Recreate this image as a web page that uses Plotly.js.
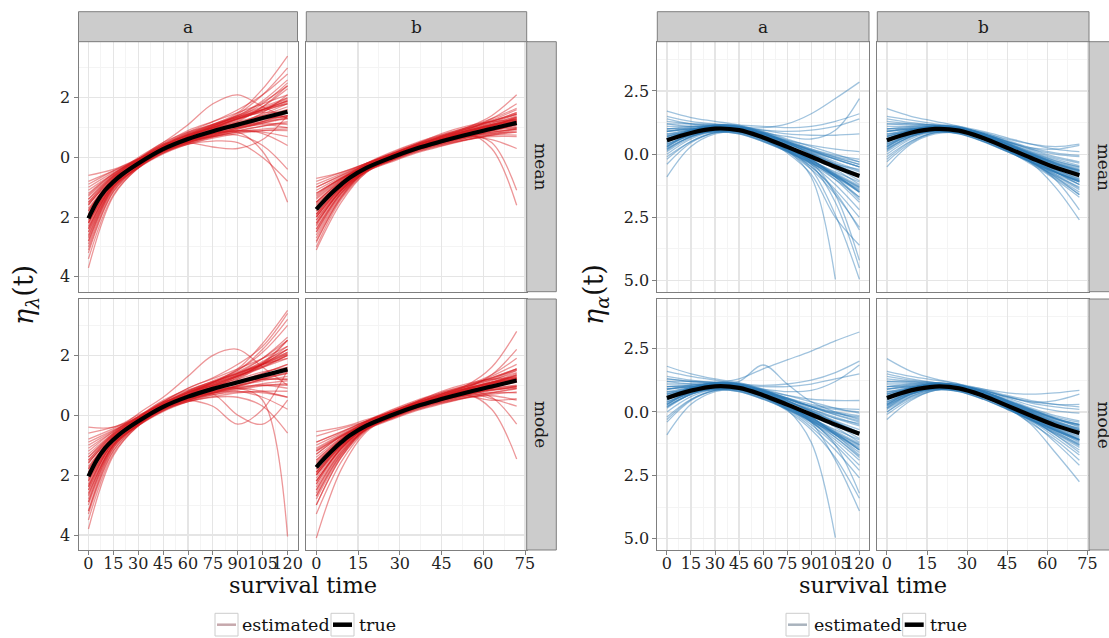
<!DOCTYPE html>
<html>
<head>
<meta charset="utf-8">
<script src="https://cdn.plot.ly/plotly-3.0.1.min.js"></script>
<style>html,body{margin:0;padding:0;background:#fff}#chart{width:1109px;height:638px}</style>
</head>
<body>
<div id="chart"></div>
<script>
// ---------------- data ----------------
const facetCols = ["a", "b"];
const facetRows = ["mean", "mode"];
const legendLabels = ["estimated", "true"];
const xTitle = "survival time";
const yTitleLambda = "<i>η</i><sub><i>λ</i></sub>(t)";
const yTitleAlpha = "<i>η</i><sub><i>α</i></sub>(t)";

const tA = [0, 15, 30, 45, 60, 75, 90, 105, 120];
const tB = [0, 9, 18, 27, 36, 45, 54, 63, 72];

const trueLamA_t = [0, 5, 10, 15, 20, 30, 45, 60, 75, 90, 105, 120];
const trueLamA   = [-2.04, -1.5, -1.1, -0.82, -0.58, -0.2, 0.28, 0.62, 0.88, 1.1, 1.32, 1.53];
const trueLamB_t = [0, 3, 6, 9, 12, 18, 27, 36, 45, 54, 63, 72];
const trueLamB   = [-1.74, -1.43, -1.15, -0.9, -0.68, -0.35, 0.0, 0.3, 0.54, 0.76, 0.96, 1.16];
const trueAlpA_t = [0, 15, 30, 45, 60, 75, 90, 105, 120];
const trueAlpA   = [0.55, 0.84, 1.01, 0.95, 0.66, 0.29, -0.1, -0.5, -0.86];
const trueAlpB_t = [0, 9, 18, 27, 36, 45, 54, 63, 72];
const trueAlpB   = [0.55, 0.85, 1.0, 0.93, 0.64, 0.25, -0.15, -0.53, -0.83];

const lamAMean = [
 [-1.2,-0.55,-0.05,0.35,0.65,0.9,1.15,1.45,1.8],[-2.6,-0.95,-0.25,0.25,0.6,0.85,1.05,1.2,1.3],
 [-0.6,-0.4,-0.05,0.3,0.6,0.85,1.05,1.25,1.4],[-3.2,-1.15,-0.3,0.2,0.55,0.8,1.1,1.5,2.1],
 [-1.8,-0.7,-0.15,0.35,0.7,1.0,1.3,1.7,2.3],[-2.2,-0.85,-0.25,0.25,0.6,0.8,0.9,0.85,0.7],
 [-1.5,-0.65,-0.1,0.4,0.8,1.1,1.4,1.9,2.6],[-2.9,-1.05,-0.3,0.2,0.5,0.7,0.85,0.9,0.9],
 [-1.0,-0.5,-0.1,0.3,0.7,1.05,1.35,1.6,1.8],[-3.7,-1.3,-0.35,0.15,0.5,0.75,1.0,1.3,1.6],
 [-2.0,-0.8,-0.2,0.3,0.65,0.95,1.25,1.6,2.0],[-1.7,-0.75,-0.15,0.35,0.7,0.95,1.15,1.3,1.35],
 [-2.4,-0.9,-0.25,0.3,0.7,1.0,1.35,1.8,2.5],[-1.3,-0.6,-0.1,0.4,0.85,1.2,1.6,2.1,2.8],
 [-2.7,-1.0,-0.3,0.2,0.55,0.8,1.0,1.1,1.0],[-1.9,-0.75,-0.2,0.25,0.55,0.75,0.9,0.8,0.4],
 [-2.3,-0.85,-0.2,0.3,0.65,0.9,1.2,1.7,2.4],[-1.6,-0.7,-0.2,0.25,0.6,0.85,1.05,1.15,1.1],
 [-0.9,-0.45,-0.05,0.4,0.75,1.05,1.4,1.85,2.4],[-2.5,-0.9,-0.2,0.35,0.75,1.0,1.2,1.4,1.6],
 [-2.2,-0.8,-0.1,0.45,0.5,0.35,0.3,0.6,1.4],[-1.4,-0.6,0.0,0.5,1.1,1.8,2.1,1.7,1.3],
 [-2.0,-0.85,-0.25,0.2,0.45,0.55,0.5,0.0,-0.8],[-2.8,-1.0,-0.25,0.3,0.7,1.05,1.45,2.1,3.0],
 [-1.1,-0.55,-0.1,0.3,0.55,0.7,0.75,0.4,-0.4],[-2.1,-0.8,-0.2,0.3,0.6,0.8,0.85,0.2,-1.5],
 [-1.8,-0.75,-0.15,0.35,0.75,1.1,1.5,2.3,3.4],[-3.0,-1.1,-0.3,0.25,0.6,0.95,1.3,1.6,1.9],
 [-1.5,-0.65,-0.15,0.3,0.6,0.85,1.1,1.4,1.7],[-2.4,-0.9,-0.2,0.3,0.7,1.0,1.3,1.5,1.5],
 [-1.9,-0.7,-0.05,0.5,0.85,1.1,1.35,1.6,1.9],[-2.2,-0.95,-0.35,0.12,0.45,0.68,0.88,1.05,1.2],
 [-1.6,-0.65,-0.08,0.45,0.9,1.2,1.5,1.8,2.1],[-2.5,-1.0,-0.35,0.15,0.45,0.65,0.8,0.9,0.95],
 [-1.4,-0.62,-0.05,0.42,0.78,1.05,1.3,1.55,1.8],[-2.8,-1.05,-0.32,0.2,0.52,0.75,0.95,1.15,1.35],
 [-1.75,-0.72,-0.12,0.4,0.75,0.98,1.15,1.3,1.4],[-2.35,-0.95,-0.3,0.18,0.5,0.72,0.9,1.05,1.15],
 [-1.25,-0.55,-0.05,0.45,0.82,1.12,1.4,1.7,2.0],[-3.1,-1.15,-0.35,0.15,0.48,0.72,0.95,1.2,1.5],
 [-2.0,-0.78,-0.15,0.38,0.75,1.02,1.28,1.55,1.85],[-1.55,-0.75,-0.25,0.2,0.5,0.7,0.85,0.95,1.0],
 [-2.65,-0.98,-0.22,0.36,0.78,1.08,1.36,1.65,1.95],[-0.8,-0.45,-0.1,0.25,0.55,0.78,0.98,1.15,1.3],
 [-2.15,-0.88,-0.25,0.22,0.55,0.8,1.0,1.2,1.4],[-3.4,-1.25,-0.35,0.25,0.68,1.0,1.3,1.6,1.9]
];
const lamBMean = [
 [-0.7,-0.5,-0.2,0.1,0.35,0.6,0.85,1.05,1.3],[-2.5,-1.2,-0.45,-0.05,0.3,0.55,0.75,0.9,1.0],
 [-1.2,-0.7,-0.3,0.05,0.35,0.6,0.85,1.1,1.4],[-3.1,-1.5,-0.5,-0.05,0.3,0.55,0.8,1.0,1.2],
 [-1.9,-0.95,-0.35,0.0,0.3,0.5,0.7,0.85,0.95],[-1.5,-0.8,-0.3,0.05,0.4,0.7,0.95,1.2,1.5],
 [-2.2,-1.1,-0.4,0.0,0.3,0.55,0.8,1.05,1.35],[-1.0,-0.6,-0.25,0.05,0.3,0.5,0.7,0.8,0.85],
 [-2.8,-1.35,-0.45,-0.05,0.3,0.55,0.8,1.0,1.2],[-1.7,-0.85,-0.3,0.05,0.4,0.65,0.9,1.15,1.45],
 [-2.0,-1.0,-0.35,0.0,0.3,0.6,0.9,1.3,1.8],[-1.3,-0.7,-0.3,0.0,0.25,0.45,0.6,0.7,0.7],
 [-2.4,-1.15,-0.4,0.0,0.35,0.6,0.85,1.1,1.3],[-0.9,-0.55,-0.2,0.1,0.4,0.7,0.95,1.25,1.6],
 [-1.6,-0.85,-0.35,-0.05,0.25,0.5,0.75,0.95,1.1],[-2.1,-1.05,-0.35,0.05,0.4,0.7,0.9,1.1,1.25],
 [-1.8,-0.9,-0.3,0.1,0.45,0.75,1.0,1.3,1.65],[-2.7,-1.3,-0.45,-0.05,0.25,0.5,0.7,0.85,0.95],
 [-1.4,-0.75,-0.3,0.0,0.35,0.6,0.8,0.95,1.0],[-1.1,-0.65,-0.25,0.1,0.45,0.8,1.05,1.2,1.25],
 [-2.3,-1.1,-0.4,0.05,0.4,0.7,1.0,1.4,2.1],[-1.9,-0.95,-0.35,0.0,0.35,0.6,0.75,0.5,-1.1],
 [-1.5,-0.8,-0.3,0.05,0.35,0.6,0.8,0.3,-1.6],[-2.0,-1.0,-0.35,0.0,0.3,0.55,0.7,0.6,0.3],
 [-1.2,-0.7,-0.3,0.0,0.3,0.55,0.8,1.05,1.35],[-3.0,-1.4,-0.5,-0.1,0.25,0.5,0.75,0.95,1.15],
 [-1.7,-0.9,-0.35,0.0,0.35,0.65,0.95,1.2,1.45],[-2.2,-1.1,-0.4,0.0,0.3,0.5,0.65,0.75,0.75],
 [-0.8,-0.5,-0.2,0.1,0.4,0.65,0.9,1.1,1.2],[-2.5,-1.2,-0.45,-0.05,0.3,0.6,0.85,1.05,1.25],
 [-1.7,-0.8,-0.22,0.15,0.47,0.72,0.95,1.15,1.35],[-1.9,-1.0,-0.45,-0.12,0.18,0.4,0.6,0.78,0.95],
 [-1.5,-0.75,-0.2,0.18,0.5,0.76,1.0,1.22,1.45],[-2.1,-1.1,-0.48,-0.15,0.15,0.38,0.58,0.75,0.9],
 [-1.35,-0.72,-0.25,0.1,0.42,0.66,0.88,1.06,1.22],[-2.4,-1.18,-0.45,-0.08,0.24,0.48,0.7,0.9,1.1],
 [-1.8,-0.85,-0.25,0.1,0.4,0.62,0.8,0.95,1.05],[-2.0,-1.05,-0.42,-0.1,0.2,0.44,0.66,0.88,1.12],
 [-1.25,-0.68,-0.22,0.12,0.44,0.68,0.9,1.1,1.28],[-2.6,-1.25,-0.45,-0.08,0.25,0.5,0.72,0.92,1.1],
 [-1.65,-0.82,-0.25,0.12,0.45,0.72,0.98,1.22,1.5],[-1.95,-1.02,-0.42,-0.1,0.2,0.42,0.6,0.74,0.85],
 [-1.0,-0.6,-0.2,0.12,0.42,0.66,0.88,1.06,1.22],[-2.25,-1.08,-0.38,0.02,0.36,0.62,0.86,1.08,1.3],
 [-1.55,-0.86,-0.38,-0.06,0.24,0.46,0.66,0.82,0.98],[-2.85,-1.32,-0.42,0.02,0.36,0.6,0.82,1.0,1.18]
];
const lamAMode = [
 [-0.4,-0.4,0.0,0.35,0.65,0.9,1.15,1.4,1.7],[-1.2,-0.55,-0.05,0.4,0.75,1.05,1.35,1.75,2.3],
 [-2.6,-1.0,-0.25,0.25,0.6,0.85,1.05,1.25,1.4],[-3.3,-1.2,-0.3,0.2,0.55,0.85,1.2,1.7,2.5],
 [-1.8,-0.7,-0.15,0.35,0.7,1.0,1.3,1.7,2.2],[-2.2,-0.85,-0.25,0.25,0.6,0.8,0.9,0.8,0.6],
 [-1.5,-0.65,-0.1,0.4,0.8,1.15,1.5,2.1,3.0],[-2.9,-1.05,-0.3,0.2,0.5,0.75,0.9,1.0,1.0],
 [-0.9,-0.5,-0.1,0.35,0.75,1.1,1.4,1.7,1.9],[-3.8,-1.35,-0.35,0.15,0.5,0.75,1.0,1.3,1.6],
 [-2.0,-0.8,-0.2,0.3,0.65,0.95,1.3,1.7,2.2],[-1.7,-0.75,-0.15,0.35,0.7,0.95,1.1,1.2,1.2],
 [-2.4,-0.9,-0.25,0.3,0.7,1.05,1.4,1.9,2.6],[-1.3,-0.6,-0.1,0.45,0.9,1.25,1.7,2.3,3.4],
 [-2.7,-1.0,-0.3,0.2,0.55,0.8,0.95,1.0,0.9],[-1.9,-0.75,-0.2,0.3,0.6,0.7,0.0,-0.3,0.5],
 [-2.3,-0.85,-0.2,0.3,0.65,0.95,1.25,1.75,2.5],[-1.6,-0.7,-0.2,0.25,0.6,0.85,0.9,0.5,-4.05],
 [-0.8,-0.45,-0.05,0.4,0.8,1.1,1.45,1.9,2.5],[-2.5,-0.9,-0.2,0.35,0.75,1.0,1.2,1.45,1.6],
 [-1.4,-0.6,0.05,0.6,1.3,2.0,2.2,1.6,1.0],[-2.1,-0.8,-0.1,0.45,0.5,0.3,-0.3,0.2,1.5],
 [-2.0,-0.85,-0.25,0.2,0.45,0.6,0.6,0.3,-0.6],[-2.8,-1.0,-0.25,0.3,0.7,1.1,1.5,2.2,3.2],
 [-1.1,-0.55,-0.1,0.3,0.55,0.75,0.8,0.6,0.2],[-3.2,-1.1,-0.3,0.25,0.6,0.9,1.25,1.6,2.0],
 [-1.8,-0.75,-0.15,0.35,0.75,1.1,1.55,2.4,3.5],[-3.0,-1.1,-0.3,0.25,0.65,0.95,1.3,1.7,2.1],
 [-1.5,-0.65,-0.15,0.3,0.6,0.85,1.1,1.4,1.7],[-2.4,-0.9,-0.2,0.3,0.7,1.0,1.35,1.8,2.2],
 [-1.9,-0.7,-0.05,0.5,0.85,1.12,1.4,1.7,2.05],[-2.2,-0.95,-0.35,0.12,0.45,0.68,0.85,0.98,1.05],
 [-1.6,-0.65,-0.08,0.45,0.9,1.22,1.55,1.9,2.3],[-2.5,-1.0,-0.35,0.15,0.45,0.62,0.75,0.8,0.8],
 [-1.4,-0.62,-0.05,0.42,0.78,1.05,1.32,1.6,1.9],[-2.9,-1.05,-0.32,0.2,0.52,0.75,0.98,1.2,1.45],
 [-1.75,-0.72,-0.12,0.4,0.75,0.98,1.12,1.2,1.2],[-2.35,-0.95,-0.3,0.18,0.5,0.72,0.9,1.05,1.15],
 [-1.0,-0.52,-0.05,0.45,0.82,1.12,1.42,1.75,2.1],[-3.2,-1.18,-0.35,0.15,0.48,0.72,0.95,1.22,1.55],
 [-2.0,-0.78,-0.15,0.38,0.75,1.02,1.3,1.62,2.0],[-1.55,-0.75,-0.25,0.2,0.5,0.68,0.78,0.75,0.6],
 [-2.65,-0.98,-0.22,0.36,0.78,1.08,1.38,1.7,2.05],[-0.6,-0.4,-0.1,0.25,0.55,0.78,0.98,1.15,1.3],
 [-2.15,-0.88,-0.25,0.22,0.55,0.8,1.0,1.2,1.4],[-3.5,-1.28,-0.35,0.25,0.68,1.0,1.32,1.65,2.0]
];
const lamBMode = [
 [-0.55,-0.4,-0.15,0.1,0.35,0.6,0.85,1.05,1.25],[-2.5,-1.2,-0.45,-0.05,0.3,0.55,0.75,0.9,1.0],
 [-1.2,-0.7,-0.3,0.05,0.35,0.6,0.85,1.1,1.4],[-3.3,-1.55,-0.5,-0.05,0.3,0.55,0.8,1.0,1.2],
 [-1.9,-0.95,-0.35,0.0,0.3,0.5,0.7,0.85,0.95],[-1.5,-0.8,-0.3,0.05,0.4,0.7,0.95,1.2,1.55],
 [-2.2,-1.1,-0.4,0.0,0.3,0.55,0.8,1.05,1.35],[-0.9,-0.55,-0.2,0.1,0.35,0.55,0.75,0.85,0.9],
 [-2.8,-1.35,-0.45,-0.05,0.3,0.55,0.8,1.0,1.2],[-1.7,-0.85,-0.3,0.05,0.4,0.65,0.9,1.15,1.5],
 [-2.0,-1.0,-0.35,0.0,0.3,0.6,0.9,1.35,2.2],[-1.3,-0.7,-0.3,0.0,0.25,0.45,0.6,0.65,0.5],
 [-2.4,-1.15,-0.4,0.0,0.35,0.6,0.85,1.1,1.3],[-1.0,-0.6,-0.2,0.1,0.4,0.7,0.95,1.3,1.7],
 [-4.1,-1.8,-0.55,-0.05,0.3,0.55,0.8,1.0,1.1],[-2.1,-1.05,-0.35,0.05,0.4,0.7,0.9,1.1,1.25],
 [-1.8,-0.9,-0.3,0.1,0.45,0.75,1.0,1.35,1.9],[-2.7,-1.3,-0.45,-0.05,0.25,0.5,0.7,0.85,0.95],
 [-1.4,-0.75,-0.3,0.0,0.35,0.6,0.8,0.6,-0.3],[-1.1,-0.65,-0.25,0.1,0.45,0.8,1.05,1.2,1.25],
 [-2.3,-1.1,-0.4,0.05,0.4,0.7,1.0,1.6,2.8],[-1.9,-0.95,-0.35,0.0,0.35,0.6,0.7,0.2,-1.46],
 [-1.6,-0.8,-0.3,0.05,0.35,0.6,0.75,0.55,0.3],[-2.0,-1.0,-0.35,0.0,0.3,0.55,0.65,0.5,0.55],
 [-1.2,-0.7,-0.3,0.0,0.3,0.55,0.8,1.05,1.35],[-3.0,-1.4,-0.5,-0.1,0.25,0.5,0.75,0.95,1.15],
 [-1.7,-0.9,-0.35,0.0,0.35,0.65,0.95,1.25,1.55],[-2.2,-1.1,-0.4,0.0,0.3,0.5,0.65,0.75,0.75],
 [-0.7,-0.45,-0.2,0.1,0.4,0.65,0.9,1.1,1.2],[-2.6,-1.25,-0.45,-0.05,0.3,0.6,0.85,1.05,1.25],
 [-1.7,-0.8,-0.22,0.15,0.47,0.72,0.96,1.18,1.42],[-1.9,-1.0,-0.45,-0.12,0.18,0.4,0.6,0.76,0.9],
 [-1.5,-0.75,-0.2,0.18,0.5,0.76,1.0,1.24,1.5],[-2.2,-1.12,-0.48,-0.15,0.15,0.38,0.58,0.74,0.88],
 [-1.3,-0.7,-0.25,0.1,0.42,0.66,0.88,1.06,1.2],[-2.5,-1.22,-0.46,-0.08,0.24,0.48,0.7,0.92,1.15],
 [-1.8,-0.85,-0.25,0.1,0.4,0.62,0.78,0.9,0.98],[-2.0,-1.05,-0.42,-0.1,0.2,0.44,0.66,0.9,1.18],
 [-1.15,-0.66,-0.22,0.12,0.44,0.68,0.9,1.1,1.3],[-2.7,-1.3,-0.46,-0.08,0.25,0.5,0.72,0.92,1.12],
 [-1.65,-0.82,-0.25,0.12,0.45,0.72,0.98,1.25,1.55],[-1.95,-1.02,-0.42,-0.1,0.2,0.42,0.58,0.7,0.78],
 [-0.9,-0.56,-0.2,0.12,0.42,0.66,0.88,1.06,1.22],[-2.3,-1.1,-0.38,0.02,0.36,0.62,0.86,1.1,1.35],
 [-1.55,-0.86,-0.38,-0.06,0.24,0.46,0.66,0.82,0.96],[-3.0,-1.4,-0.44,0.02,0.36,0.6,0.82,1.0,1.2]
];
const alpAMean = [
 [1.7,1.45,1.3,1.15,0.9,0.6,0.3,0.0,-0.3],[-0.9,0.3,0.8,0.9,0.7,0.35,-0.1,-0.6,-1.2],
 [0.2,0.7,0.95,0.95,0.7,0.3,-0.2,-0.8,-1.5],[1.2,1.1,1.1,1.0,0.8,0.55,0.35,0.2,0.1],
 [0.5,0.9,1.1,1.05,0.75,0.2,-0.5,-1.4,-2.5],[0.9,1.0,1.05,0.95,0.7,0.4,0.1,-0.2,-0.5],
 [0.0,0.6,0.9,0.9,0.6,0.1,-0.6,-1.6,-2.9],[1.4,1.2,1.1,1.05,0.95,0.9,0.95,1.1,1.4],
 [0.7,0.85,0.95,0.85,0.55,0.15,-0.35,-0.9,-1.4],[0.3,0.8,1.05,1.05,0.8,0.4,-0.3,-1.6,-4.2],
 [1.0,1.05,1.1,1.0,0.7,0.3,-0.1,-0.4,-0.6],[-0.4,0.45,0.85,0.95,0.75,0.35,-0.2,-0.9,-1.8],
 [0.6,0.95,1.15,1.1,0.85,0.45,0.0,-0.4,-0.8],[1.5,1.3,1.2,1.15,1.1,1.05,1.1,1.3,1.6],
 [0.4,0.75,0.95,0.9,0.6,0.15,-0.5,-1.5,-3.0],[0.8,0.95,1.0,0.9,0.6,0.2,-0.2,-0.55,-0.9],
 [0.1,0.65,0.95,0.95,0.65,0.15,-0.6,-2.4,-4.95],[1.1,1.1,1.1,1.0,0.75,0.45,0.15,-0.1,-0.3],
 [0.55,0.9,1.05,1.0,0.7,0.25,-0.3,-1.0,-1.9],[-0.2,0.5,0.85,0.9,0.65,0.25,-0.25,-0.8,-1.3],
 [0.9,1.0,1.05,1.0,0.85,0.7,0.6,0.95,2.2],[0.3,0.75,1.0,1.0,0.75,0.3,-0.4,-1.9,-4.5],
 [1.3,1.2,1.15,1.05,0.8,0.5,0.2,-0.05,-0.2],[0.7,0.95,1.1,1.05,0.8,0.35,-0.2,-0.9,-1.7],
 [0.2,0.7,0.95,0.95,0.7,0.3,-0.25,-0.7,-1.1],[1.0,1.1,1.15,1.1,0.95,0.8,0.75,0.75,0.8],
 [0.5,0.85,1.0,0.95,0.65,0.2,-0.4,-1.2,-2.2],[0.9,1.0,1.05,1.05,1.05,1.2,1.6,2.2,2.85],
 [0.35,0.8,1.0,0.95,0.6,0.05,-0.8,-2.5,-3.6],[0.6,0.9,1.0,0.9,0.6,0.15,-0.9,-4.95,null],
 [0.55,0.95,1.15,1.1,0.85,0.5,0.15,-0.2,-0.5],[0.8,0.82,0.88,0.8,0.5,0.1,-0.35,-0.85,-1.35],
 [0.3,0.8,1.1,1.08,0.82,0.45,0.05,-0.35,-0.7],[0.65,0.8,0.9,0.82,0.52,0.12,-0.35,-0.9,-1.5],
 [0.45,0.9,1.12,1.1,0.85,0.5,0.1,-0.3,-0.65],[1.0,1.0,0.98,0.88,0.6,0.2,-0.25,-0.75,-1.25],
 [0.15,0.7,1.0,1.02,0.8,0.45,0.05,-0.4,-0.85],[0.7,0.95,1.12,1.08,0.82,0.45,0.0,-0.5,-1.05],
 [0.4,0.72,0.88,0.8,0.5,0.1,-0.4,-1.0,-1.7],[0.9,1.05,1.12,1.05,0.8,0.48,0.15,-0.15,-0.4],
 [0.25,0.68,0.92,0.88,0.6,0.2,-0.3,-0.85,-1.45],[0.6,0.95,1.15,1.12,0.88,0.55,0.2,-0.12,-0.4],
 [-0.1,0.5,0.85,0.88,0.62,0.22,-0.28,-0.85,-1.5],[0.75,0.98,1.12,1.05,0.78,0.4,0.0,-0.45,-0.9],
 [0.5,0.78,0.92,0.85,0.55,0.15,-0.3,-0.8,-1.3],[1.2,1.2,1.18,1.08,0.82,0.5,0.15,-0.2,-0.5]
];
const alpBMean = [
 [1.8,1.5,1.3,1.1,0.8,0.45,0.1,-0.2,-0.45],[-0.5,0.4,0.8,0.85,0.65,0.3,-0.1,-0.5,-0.8],
 [0.2,0.7,0.95,0.95,0.7,0.3,-0.15,-0.6,-1.0],[1.2,1.15,1.1,1.0,0.8,0.5,0.2,-0.1,-0.3],
 [0.5,0.85,1.05,1.0,0.7,0.2,-0.35,-0.95,-1.6],[0.9,1.0,1.05,0.95,0.7,0.35,0.0,-0.35,-0.7],
 [0.0,0.6,0.9,0.9,0.6,0.15,-0.4,-1.0,-1.7],[1.4,1.25,1.15,1.05,0.85,0.6,0.4,0.3,0.4],
 [0.7,0.9,1.0,0.9,0.6,0.2,-0.25,-0.7,-1.1],[0.3,0.75,1.0,1.0,0.75,0.3,-0.3,-1.0,-2.2],
 [1.0,1.05,1.05,0.95,0.7,0.35,-0.05,-0.45,-0.8],[-0.2,0.5,0.85,0.9,0.7,0.3,-0.2,-0.7,-1.2],
 [0.6,0.9,1.1,1.05,0.8,0.4,0.0,-0.4,-0.75],[1.5,1.35,1.2,1.1,0.9,0.65,0.4,0.2,0.1],
 [0.4,0.8,1.0,0.95,0.65,0.2,-0.3,-0.9,-1.5],[0.8,0.95,1.0,0.9,0.6,0.25,-0.15,-0.5,-0.85],
 [0.1,0.65,0.95,0.95,0.65,0.2,-0.35,-1.3,-2.6],[1.1,1.1,1.05,0.95,0.7,0.4,0.05,-0.25,-0.5],
 [0.55,0.9,1.05,1.0,0.7,0.25,-0.25,-0.8,-1.35],[-0.3,0.45,0.85,0.9,0.65,0.25,-0.2,-0.65,-1.05],
 [0.9,1.0,1.05,1.0,0.8,0.5,0.2,0.0,-0.1],[0.3,0.75,0.95,0.9,0.6,0.2,-0.3,-0.85,-1.4],
 [1.3,1.2,1.15,1.05,0.8,0.5,0.15,-0.15,-0.35],[0.7,0.95,1.1,1.0,0.75,0.3,-0.2,-0.7,-1.2],
 [0.2,0.7,0.95,0.95,0.7,0.3,-0.15,-0.6,-0.95],[1.0,1.1,1.15,1.05,0.85,0.55,0.25,0.05,-0.05],
 [0.5,0.85,1.0,0.9,0.6,0.15,-0.35,-0.85,-1.3],[0.9,1.0,1.05,1.0,0.8,0.5,0.25,0.2,0.35],
 [0.35,0.8,1.0,0.95,0.65,0.2,-0.3,-0.9,-1.6],[0.6,0.9,1.0,0.9,0.65,0.3,-0.05,-0.4,-0.65],
 [0.55,0.95,1.12,1.06,0.8,0.42,0.02,-0.35,-0.62],[0.8,0.85,0.9,0.8,0.5,0.1,-0.32,-0.72,-1.05],
 [0.3,0.8,1.08,1.05,0.8,0.42,0.02,-0.35,-0.65],[0.65,0.82,0.9,0.82,0.52,0.12,-0.3,-0.72,-1.1],
 [0.45,0.9,1.1,1.06,0.8,0.44,0.05,-0.32,-0.6],[1.0,1.0,0.98,0.86,0.56,0.15,-0.28,-0.7,-1.05],
 [0.15,0.7,0.98,0.98,0.74,0.38,-0.02,-0.4,-0.72],[0.7,0.95,1.1,1.04,0.76,0.38,-0.05,-0.48,-0.85],
 [0.4,0.72,0.88,0.8,0.5,0.1,-0.32,-0.78,-1.2],[0.9,1.05,1.1,1.02,0.76,0.4,0.02,-0.3,-0.55],
 [0.25,0.7,0.92,0.86,0.58,0.18,-0.25,-0.68,-1.08],[0.6,0.95,1.12,1.08,0.82,0.46,0.08,-0.26,-0.5],
 [-0.1,0.52,0.85,0.86,0.6,0.22,-0.2,-0.62,-1.0],[0.75,0.98,1.1,1.02,0.74,0.36,-0.06,-0.46,-0.78],
 [0.5,0.78,0.9,0.82,0.52,0.12,-0.3,-0.72,-1.1],[1.2,1.2,1.15,1.04,0.76,0.38,-0.02,-0.38,-0.65]
];
const alpAMode = [
 [1.8,1.5,1.3,1.15,0.9,0.65,0.4,0.15,-0.05],[-0.9,0.3,0.8,0.9,0.7,0.35,-0.1,-0.6,-1.2],
 [0.2,0.7,0.95,0.95,0.7,0.3,-0.2,-0.8,-1.5],[1.2,1.1,1.1,1.05,0.85,0.65,0.5,0.45,0.45],
 [0.5,0.9,1.1,1.05,0.75,0.25,-0.4,-1.2,-2.1],[0.9,1.0,1.05,0.95,0.7,0.4,0.1,-0.2,-0.5],
 [0.0,0.6,0.9,0.9,0.6,0.1,-0.6,-1.5,-2.6],[1.4,1.25,1.15,1.1,1.05,1.1,1.25,1.55,2.0],
 [0.7,0.85,0.95,0.85,0.55,0.15,-0.35,-0.9,-1.4],[0.3,0.8,1.05,1.05,0.8,0.35,-0.4,-1.9,-3.9],
 [1.0,1.05,1.1,1.0,0.75,0.4,0.05,-0.25,-0.45],[-0.4,0.45,0.85,0.95,0.75,0.35,-0.2,-0.9,-1.7],
 [0.6,0.95,1.15,1.1,0.85,0.45,0.0,-0.4,-0.8],[1.3,1.2,1.15,1.3,1.7,2.05,2.4,2.8,3.15],
 [0.4,0.75,0.95,0.9,0.6,0.15,-0.5,-1.3,-2.3],[0.8,0.95,1.0,0.9,0.6,0.2,-0.2,-0.55,-0.9],
 [0.5,0.85,1.0,0.95,0.65,0.1,-1.2,-4.95,null],[1.1,1.1,1.1,1.0,0.8,0.5,0.25,0.1,0.0],
 [0.55,0.9,1.05,1.0,0.7,0.25,-0.3,-1.0,-1.8],[-0.2,0.5,0.85,0.9,0.65,0.25,-0.25,-0.8,-1.3],
 [0.9,1.0,1.05,1.0,0.9,0.8,0.85,1.2,1.85],[0.3,0.75,1.0,1.0,0.75,0.3,-0.35,-1.3,-3.2],
 [1.3,1.2,1.15,1.05,0.8,0.5,0.2,-0.05,-0.2],[0.7,0.95,1.1,1.05,0.8,0.35,-0.2,-0.9,-1.6],
 [0.2,0.7,0.95,0.95,0.7,0.3,-0.25,-0.7,-1.1],[1.0,1.05,1.1,1.2,1.85,1.1,0.4,0.0,-0.3],
 [0.5,0.85,1.0,0.95,0.65,0.2,-0.4,-1.1,-1.9],[0.9,1.0,1.05,1.05,1.0,1.0,1.1,1.3,1.5],
 [0.35,0.8,1.0,0.95,0.6,0.05,-0.7,-1.8,-3.4],[1.6,1.4,1.25,1.1,0.85,0.55,0.3,0.15,0.1],
 [0.55,0.95,1.15,1.1,0.86,0.52,0.2,-0.1,-0.35],[0.8,0.82,0.88,0.8,0.5,0.1,-0.35,-0.85,-1.35],
 [0.3,0.8,1.1,1.08,0.82,0.45,0.05,-0.35,-0.7],[0.65,0.8,0.9,0.82,0.52,0.12,-0.35,-0.9,-1.5],
 [0.45,0.9,1.12,1.1,0.85,0.5,0.12,-0.25,-0.55],[1.0,1.0,0.98,0.88,0.6,0.2,-0.25,-0.75,-1.25],
 [0.15,0.7,1.0,1.02,0.8,0.45,0.05,-0.4,-0.85],[0.7,0.95,1.12,1.08,0.82,0.45,0.0,-0.5,-1.05],
 [0.4,0.72,0.88,0.8,0.5,0.1,-0.4,-1.0,-1.75],[0.9,1.05,1.12,1.05,0.82,0.52,0.22,0.0,-0.15],
 [0.25,0.68,0.92,0.88,0.6,0.2,-0.3,-0.85,-1.45],[0.6,0.95,1.15,1.12,0.88,0.55,0.2,-0.12,-0.4],
 [-0.3,0.48,0.85,0.88,0.62,0.22,-0.28,-0.85,-1.5],[0.75,0.98,1.12,1.05,0.78,0.4,0.0,-0.4,-0.8],
 [0.5,0.78,0.92,0.85,0.55,0.15,-0.3,-0.8,-1.3],[1.2,1.2,1.18,1.08,0.84,0.54,0.22,-0.05,-0.25]
];
const alpBMode = [
 [2.1,1.6,1.3,1.1,0.8,0.45,0.1,-0.25,-0.6],[-0.3,0.45,0.85,0.85,0.6,0.25,-0.15,-0.55,-0.9],
 [0.2,0.7,0.95,0.95,0.7,0.3,-0.15,-0.65,-1.1],[1.5,1.3,1.15,1.05,0.85,0.6,0.4,0.3,0.3],
 [0.5,0.85,1.05,1.0,0.7,0.2,-0.35,-1.0,-1.7],[0.9,1.0,1.05,0.95,0.7,0.35,0.0,-0.35,-0.7],
 [0.0,0.6,0.9,0.9,0.6,0.15,-0.45,-1.1,-1.9],[1.3,1.2,1.1,1.05,0.9,0.75,0.7,0.75,0.85],
 [0.7,0.9,1.0,0.9,0.6,0.2,-0.25,-0.7,-1.1],[0.3,0.75,1.0,1.0,0.7,0.2,-0.5,-1.6,-2.75],
 [1.0,1.05,1.05,0.95,0.7,0.35,-0.05,-0.45,-0.8],[0.1,0.6,0.9,0.9,0.7,0.3,-0.2,-0.75,-1.3],
 [0.6,0.9,1.1,1.05,0.8,0.4,0.0,-0.4,-0.75],[1.6,1.4,1.25,1.1,0.9,0.65,0.45,0.3,0.2],
 [0.4,0.8,1.0,0.95,0.65,0.2,-0.3,-0.9,-1.5],[0.8,0.95,1.0,0.9,0.6,0.25,-0.15,-0.5,-0.85],
 [0.15,0.65,0.95,0.95,0.65,0.2,-0.4,-1.2,-2.1],[1.1,1.1,1.05,0.95,0.7,0.4,0.05,-0.25,-0.5],
 [0.55,0.9,1.05,1.0,0.7,0.25,-0.25,-0.8,-1.35],[-0.1,0.5,0.85,0.9,0.65,0.25,-0.2,-0.65,-1.05],
 [0.9,1.0,1.05,1.0,0.85,0.6,0.4,0.45,0.7],[0.3,0.75,0.95,0.9,0.6,0.2,-0.3,-0.85,-1.4],
 [1.2,1.15,1.1,1.05,0.8,0.5,0.15,-0.15,-0.35],[0.7,0.95,1.1,1.0,0.75,0.3,-0.2,-0.7,-1.2],
 [0.25,0.7,0.95,0.95,0.7,0.3,-0.15,-0.6,-0.95],[1.0,1.1,1.15,1.05,0.85,0.55,0.25,0.05,-0.05],
 [0.5,0.85,1.0,0.9,0.6,0.15,-0.35,-0.85,-1.3],[1.4,1.25,1.15,1.05,0.85,0.6,0.35,0.2,0.1],
 [0.35,0.8,1.0,0.95,0.65,0.2,-0.3,-0.9,-1.6],[0.6,0.9,1.0,0.9,0.65,0.3,-0.05,-0.4,-0.65],
 [0.55,0.95,1.12,1.06,0.8,0.44,0.06,-0.28,-0.52],[0.8,0.85,0.9,0.8,0.5,0.1,-0.32,-0.74,-1.1],
 [0.3,0.8,1.08,1.05,0.8,0.42,0.02,-0.35,-0.65],[0.65,0.82,0.9,0.82,0.52,0.12,-0.3,-0.74,-1.15],
 [0.45,0.9,1.1,1.06,0.8,0.46,0.1,-0.25,-0.48],[1.0,1.0,0.98,0.86,0.56,0.15,-0.28,-0.72,-1.1],
 [0.15,0.7,0.98,0.98,0.74,0.38,-0.02,-0.4,-0.72],[0.7,0.95,1.1,1.04,0.76,0.38,-0.05,-0.48,-0.85],
 [0.4,0.72,0.88,0.8,0.5,0.1,-0.32,-0.8,-1.25],[0.9,1.05,1.1,1.02,0.78,0.45,0.1,-0.2,-0.4],
 [0.25,0.7,0.92,0.86,0.58,0.18,-0.25,-0.68,-1.08],[0.6,0.95,1.12,1.08,0.82,0.46,0.08,-0.26,-0.5],
 [0.0,0.55,0.86,0.86,0.6,0.22,-0.2,-0.62,-1.0],[0.75,0.98,1.1,1.02,0.74,0.36,-0.06,-0.44,-0.72],
 [0.5,0.78,0.9,0.82,0.52,0.12,-0.3,-0.72,-1.1],[1.2,1.2,1.15,1.04,0.78,0.42,0.04,-0.3,-0.55]
];

// ---------------- styling / layout ----------------
const W = 1109, H = 638;
const FONT = "DejaVu Serif";
const RED = "rgba(215,25,28,0.45)";
const BLUE = "rgba(44,123,182,0.45)";
const fx = p => p / W;
const fy = p => 1 - p / H;

const colPx = [[78.5, 297.5], [306.3, 526.7], [657.3, 869.0], [877.3, 1089.0]];
const rowPx = [[41.7, 291.7], [299.0, 550.0]];

const traces = [];
const layout = {
  width: W, height: H,
  margin: {l: 0, r: 0, t: 0, b: 0},
  paper_bgcolor: "#ffffff", plot_bgcolor: "#ffffff",
  showlegend: false,
  font: {family: FONT, color: "#222222"},
  shapes: [], annotations: []
};

const panels = [
  [1, 0, 0, true, false, lamAMean, RED, trueLamA_t, trueLamA],
  [2, 1, 0, true, true, lamBMean, RED, trueLamB_t, trueLamB],
  [3, 0, 1, true, false, lamAMode, RED, trueLamA_t, trueLamA],
  [4, 1, 1, true, true, lamBMode, RED, trueLamB_t, trueLamB],
  [5, 2, 0, false, false, alpAMean, BLUE, trueAlpA_t, trueAlpA],
  [6, 3, 0, false, true, alpBMean, BLUE, trueAlpB_t, trueAlpB],
  [7, 2, 1, false, false, alpAMode, BLUE, trueAlpA_t, trueAlpA],
  [8, 3, 1, false, true, alpBMode, BLUE, trueAlpB_t, trueAlpB]
];

panels.forEach(([i, c, r, isLam, isB, curves, col, tt, tv]) => {
  const xa = "x" + (i === 1 ? "" : i), ya = "y" + (i === 1 ? "" : i);
  const tx = isB ? tB : tA;
  curves.forEach(cv => traces.push({
    type: "scatter", mode: "lines", x: tx, y: cv, xaxis: xa, yaxis: ya,
    line: {color: col, width: 1.3, shape: "spline", smoothing: 1},
    hoverinfo: "skip", showlegend: false
  }));
  traces.push({
    type: "scatter", mode: "lines", x: tt, y: tv, xaxis: xa, yaxis: ya,
    line: {color: "#000000", width: 4.2, shape: "spline", smoothing: 1},
    hoverinfo: "skip", showlegend: false
  });
  const bottom = r === 1, left = (c === 0 || c === 2);
  const axBase = {
    showgrid: true, gridcolor: "#E5E5E5", gridwidth: 1.2,
    showline: true, mirror: true, linecolor: "#7F7F7F", linewidth: 1,
    zeroline: false, fixedrange: true,
    ticklen: 4, tickcolor: "#7F7F7F", tickwidth: 1,
    tickfont: {family: FONT, size: 16, color: "#222222"}
  };
  layout["xaxis" + (i === 1 ? "" : i)] = Object.assign({}, axBase, {
    domain: [fx(colPx[c][0]), fx(colPx[c][1])],
    anchor: ya,
    range: isB ? [-3.6, 75.6] : [-6, 126],
    tickmode: "linear", tick0: 0, dtick: 15,
    minor: {tick0: 0, dtick: 7.5, showgrid: true, gridcolor: "#F4F4F4", gridwidth: 1},
    ticks: bottom ? "outside" : "", showticklabels: bottom, tickangle: 0,
    ticklabelstandoff: -5
  });
  layout["yaxis" + (i === 1 ? "" : i)] = Object.assign({}, axBase, {
    domain: [fy(rowPx[r][1]), fy(rowPx[r][0])],
    anchor: xa,
    range: isLam ? [-4.5, 3.88] : [-5.44, 4.45],
    tickmode: "linear", tick0: 0, dtick: isLam ? 2 : 2.5,
    tickformat: isLam ? "d" : ".1f",
    labelalias: isLam ? {"−2": "2", "−4": "4", "-2": "2", "-4": "4"}
                      : {"−2.5": "2.5", "−5.0": "5.0", "-2.5": "2.5", "-5.0": "5.0"},
    minor: {tick0: 0, dtick: isLam ? 1 : 1.25, showgrid: true, gridcolor: "#F4F4F4", gridwidth: 1},
    ticks: left ? "outside" : "", showticklabels: left
  });
});

const STRIP_FILL = "#CCCCCC", STRIP_LINE = "#7F7F7F";
colPx.forEach((cp, c) => {
  layout.shapes.push({type: "rect", xref: "paper", yref: "paper",
    x0: fx(cp[0]), x1: fx(cp[1]), y0: fy(41.7), y1: fy(11.7),
    fillcolor: STRIP_FILL, line: {color: STRIP_LINE, width: 1}});
  layout.annotations.push({xref: "paper", yref: "paper", x: fx((cp[0] + cp[1]) / 2), y: fy(26.7),
    text: facetCols[c % 2], showarrow: false, xanchor: "center", yanchor: "middle",
    font: {family: FONT, size: 17, color: "#1a1a1a"}});
});
[[526.7, 556.3], [1089.0, 1119.0]].forEach(sp => {
  rowPx.forEach((rp, r) => {
    layout.shapes.push({type: "rect", xref: "paper", yref: "paper",
      x0: fx(sp[0]), x1: fx(sp[1]), y0: fy(rp[1]), y1: fy(rp[0]),
      fillcolor: STRIP_FILL, line: {color: STRIP_LINE, width: 1}});
    layout.annotations.push({xref: "paper", yref: "paper", x: fx((sp[0] + sp[1]) / 2), y: fy((rp[0] + rp[1]) / 2),
      text: facetRows[r], showarrow: false, textangle: 90, xanchor: "center", yanchor: "middle",
      font: {family: FONT, size: 17, color: "#1a1a1a"}});
  });
});

[[302.6, yTitleLambda, 25], [873.0, yTitleAlpha, 595]].forEach(([xc, yt, yx]) => {
  layout.annotations.push({xref: "paper", yref: "paper", x: fx(xc), y: fy(585),
    text: xTitle, showarrow: false, xanchor: "center", yanchor: "middle",
    font: {family: FONT, size: 22.5, color: "#111111"}});
  layout.annotations.push({xref: "paper", yref: "paper", x: fx(yx), y: fy(295),
    text: yt, showarrow: false, textangle: -90, xanchor: "center", yanchor: "middle",
    font: {family: FONT, size: 27, color: "#111111"}});
});

const legendSpec = [
  {k1: 215, t1: 240, k2: 331, t2: 356.5, estCol: "#C6A8AC"},
  {k1: 786, t1: 811.5, k2: 902.7, t2: 928, estCol: "#A9B3BD"}
];
legendSpec.forEach(L => {
  [[L.k1, L.estCol, 2.5], [L.k2, "#000000", 4.5]].forEach(([kx, kc, kw]) => {
    layout.shapes.push({type: "rect", xref: "paper", yref: "paper",
      x0: fx(kx), x1: fx(kx + 23), y0: fy(636), y1: fy(613.3),
      fillcolor: "#FFFFFF", line: {color: "#CCCCCC", width: 1}});
    layout.shapes.push({type: "line", xref: "paper", yref: "paper",
      x0: fx(kx + 2), x1: fx(kx + 21), y0: fy(624.7), y1: fy(624.7),
      line: {color: kc, width: kw}});
  });
  layout.annotations.push({xref: "paper", yref: "paper", x: fx(L.t1), y: fy(624.5),
    text: legendLabels[0], showarrow: false, xanchor: "left", yanchor: "middle",
    font: {family: FONT, size: 17.5, color: "#111111"}});
  layout.annotations.push({xref: "paper", yref: "paper", x: fx(L.t2), y: fy(624.5),
    text: legendLabels[1], showarrow: false, xanchor: "left", yanchor: "middle",
    font: {family: FONT, size: 17.5, color: "#111111"}});
});

Plotly.newPlot("chart", traces, layout, {staticPlot: true, displayModeBar: false});
</script>
</body>
</html>
